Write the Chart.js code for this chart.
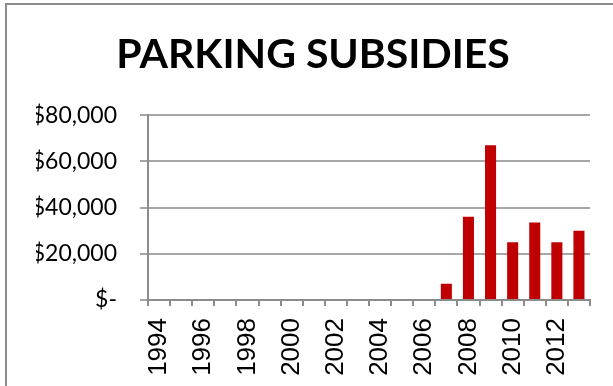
<!DOCTYPE html>
<html>
<head>
<meta charset="utf-8">
<script src="https://cdn.jsdelivr.net/npm/chart.js@4.4.1/dist/chart.umd.min.js"></script>
<style>
  html, body { margin: 0; padding: 0; background: #fff; overflow: hidden; }
  #wrap { position: relative; width: 613px; height: 386px; }
  #frame {
    position: absolute; left: 5px; top: 3px; width: 700px; height: 500px;
    border-top: 2px solid #8c8c8c; border-left: 2px solid #8c8c8c;
    pointer-events: none;
  }
</style>
</head>
<body>
<div id="wrap">
  <canvas id="chart"></canvas>
  <div id="frame"></div>
</div>
<script>
const years = ['1994', '1995', '1996', '1997', '1998', '1999', '2000', '2001', '2002', '2003',
               '2004', '2005', '2006', '2007', '2008', '2009', '2010', '2011', '2012', '2013'];
const subsidies = [0, 0, 0, 0, 0, 0, 0, 0, 0, 0,
                   0, 0, 0, 7000, 36000, 67000, 25000, 33500, 25000, 30000];
const yTicks = [0, 20000, 40000, 60000, 80000];

function money(v) {
  return v === 0 ? '$-' : '$' + v.toLocaleString('en-US');
}

new Chart(document.getElementById('chart'), {
  type: 'bar',
  data: {
    labels: years,
    datasets: [{
      data: subsidies,
      backgroundColor: '#c00000',
      barPercentage: 0.5,
      categoryPercentage: 1.0
    }]
  },
  options: {
    responsive: true,
    maintainAspectRatio: false,
    animation: false,
    // left padding keeps the title centred on the whole frame
    layout: { padding: { top: 0, right: 23, bottom: 0, left: 36 } },
    plugins: {
      legend: { display: false },
      tooltip: { enabled: false },
      title: {
        display: true,
        text: 'PARKING SUBSIDIES',
        color: '#000',
        font: { family: 'Lato', size: 41, weight: 'bold' },
        padding: { top: 30, bottom: 36 }
      }
    },
    scales: {
      x: {
        grid: {
          offset: true,
          drawOnChartArea: false,
          tickLength: 6,
          color: '#8c8c8c',
          lineWidth: 2
        },
        border: { display: true, color: '#8c8c8c', width: 2 },
        ticks: {
          autoSkip: false,
          minRotation: 90,
          maxRotation: 90,
          padding: 12,
          color: '#000',
          font: { family: 'Liberation Sans', size: 26 },
          callback: (v, i) => (i % 2 === 0 ? years[i] : '')
        },
        afterFit: (scale) => {
          scale.height = 86;
          // rotated labels fit inside their columns, no side padding needed
          scale.paddingLeft = 0;
          scale.paddingRight = 0;
        }
      },
      y: {
        min: 0,
        max: 80000,
        afterBuildTicks: (scale) => { scale.ticks = yTicks.map(v => ({ value: v })); },
        grid: { color: '#a6a6a6', lineWidth: 2, tickLength: 8 },
        border: { display: true, color: '#8c8c8c', width: 2 },
        ticks: {
          padding: 23,
          color: '#000',
          font: { family: 'Lato', size: 23 },
          callback: (v) => money(v)
        },
        afterFit: (scale) => { scale.width = 112; }
      }
    }
  }
});
</script>
</body>
</html>
